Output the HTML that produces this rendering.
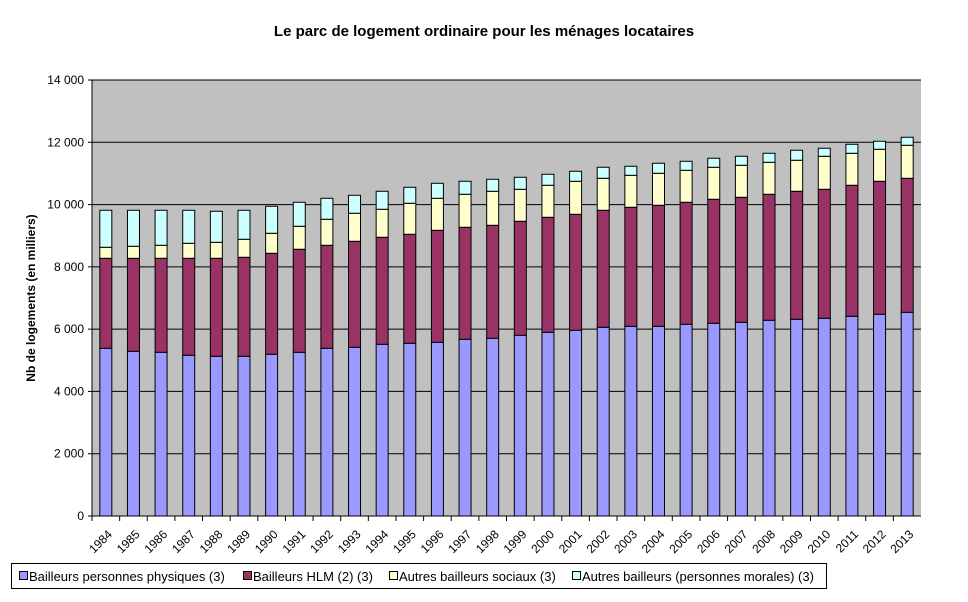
<!DOCTYPE html>
<html><head><meta charset="utf-8"><style>
html,body{margin:0;padding:0;background:#fff;}
svg{display:block;font-family:"Liberation Sans",Arial,sans-serif;}
</style></head><body>
<svg id="chart" width="968" height="602" viewBox="0 0 968 602">
<text x="484" y="36" text-anchor="middle" font-size="15" font-weight="bold">Le parc de logement ordinaire pour les ménages locataires</text>
<rect x="92" y="80" width="829" height="436" fill="#c0c0c0"/>
<g id="grid"></g>
<g id="bars"></g>
<g id="axes"></g>
<text transform="translate(35,298) rotate(-90)" text-anchor="middle" font-size="12" font-weight="bold">Nb de logements (en milliers)</text>
<g id="legend">
<rect x="11.5" y="563.5" width="815" height="25" fill="#fff" stroke="#000"/>
</g>
</svg>
<script>
const years=[1984,1985,1986,1987,1988,1989,1990,1991,1992,1993,1994,1995,1996,1997,1998,1999,2000,2001,2002,2003,2004,2005,2006,2007,2008,2009,2010,2011,2012,2013];
const physiques=[5385,5289,5257,5161,5128,5128,5193,5257,5385,5417,5514,5546,5578,5674,5707,5803,5899,5963,6060,6092,6092,6156,6188,6220,6285,6317,6349,6413,6477,6541];
const hlm=[2890,2986,3018,3114,3147,3180,3243,3308,3308,3404,3436,3500,3596,3597,3628,3661,3693,3725,3757,3821,3886,3918,3982,4014,4046,4110,4142,4207,4271,4303];
const sociaux=[354,386,418,482,514,578,642,738,835,900,899,996,1028,1060,1092,1027,1028,1060,1027,1027,1027,1027,1028,1028,1027,996,1060,1027,1028,1060];
const autres=[1188,1156,1124,1060,996,931,867,771,674,577,578,513,481,417,385,385,353,321,354,290,321,289,289,289,289,321,257,289,257,257];
const yTicks=[0,2000,4000,6000,8000,10000,12000,14000];
const yTickLabels=["0","2 000","4 000","6 000","8 000","10 000","12 000","14 000"];
const seriesNames=["Bailleurs personnes physiques (3)","Bailleurs HLM (2) (3)","Autres bailleurs sociaux (3)","Autres bailleurs (personnes morales) (3)"];
const colors=["#9999ff","#993366","#ffffcc","#ccffff"];
const NS="http://www.w3.org/2000/svg";
const X0=92,X1=921,Y0=516,Y1=80,YMAX=14000;
const band=(X1-X0)/years.length;
function y(v){return Y0-(v/YMAX)*(Y0-Y1);}
function xc(i){return X0+band*(i+0.5);}
function mk(tag,attrs,parent){const e=document.createElementNS(NS,tag);for(const k in attrs)e.setAttribute(k,attrs[k]);parent.appendChild(e);return e;}
const grid=document.getElementById('grid'),bars=document.getElementById('bars'),axes=document.getElementById('axes'),legend=document.getElementById('legend');
yTicks.forEach((t,i)=>{
  if(t>0){const l=mk('line',{x1:X0,x2:X1,y1:y(t),y2:y(t),stroke:'#000','stroke-width':1},grid);
  
  }
  const tk=mk('line',{x1:X0-4,x2:X0,y1:y(t),y2:y(t),stroke:'#000'},axes);
  
  
  const tx=mk('text',{x:X0-8,y:y(t)+4,'text-anchor':'end','font-size':12},axes);
  tx.textContent=yTickLabels[i];
  
  
});
const series=[physiques,hlm,sociaux,autres];
const bw=12;
years.forEach((yr,i)=>{
  let base=0;
  series.forEach((s,j)=>{
    const top=base+s[i];
    const r=mk('rect',{x:xc(i)-bw/2,y:y(top),width:bw,height:y(base)-y(top),fill:colors[j],stroke:'#000','stroke-width':1},bars);
    
    
    base=top;
  });
  const tk=mk('line',{x1:X0+band*i,x2:X0+band*i,y1:Y0,y2:Y0+5,stroke:'#000'},axes);
  
  
  const tx=mk('text',{transform:'translate('+(xc(i)+7)+','+(Y0+19)+') rotate(-45)','text-anchor':'end','font-size':12},axes);
  tx.textContent=yr;
  
  
});
const ax=mk('line',{x1:X0,x2:X0,y1:Y1,y2:Y0,stroke:'#000'},axes);


const ax2=mk('line',{x1:X0,x2:X1,y1:Y0,y2:Y0,stroke:'#000'},axes);


const lx=[19,243,389,572];
seriesNames.forEach((n,j)=>{
  const g=mk('g',{},legend);
  
  
  mk('rect',{x:lx[j]+0.5,y:571.5,width:8,height:8,fill:colors[j],stroke:'#000'},g);
  const t=mk('text',{x:lx[j]+10,y:581,'font-size':13},g);
  t.textContent=n;
});
</script>
</body></html>
